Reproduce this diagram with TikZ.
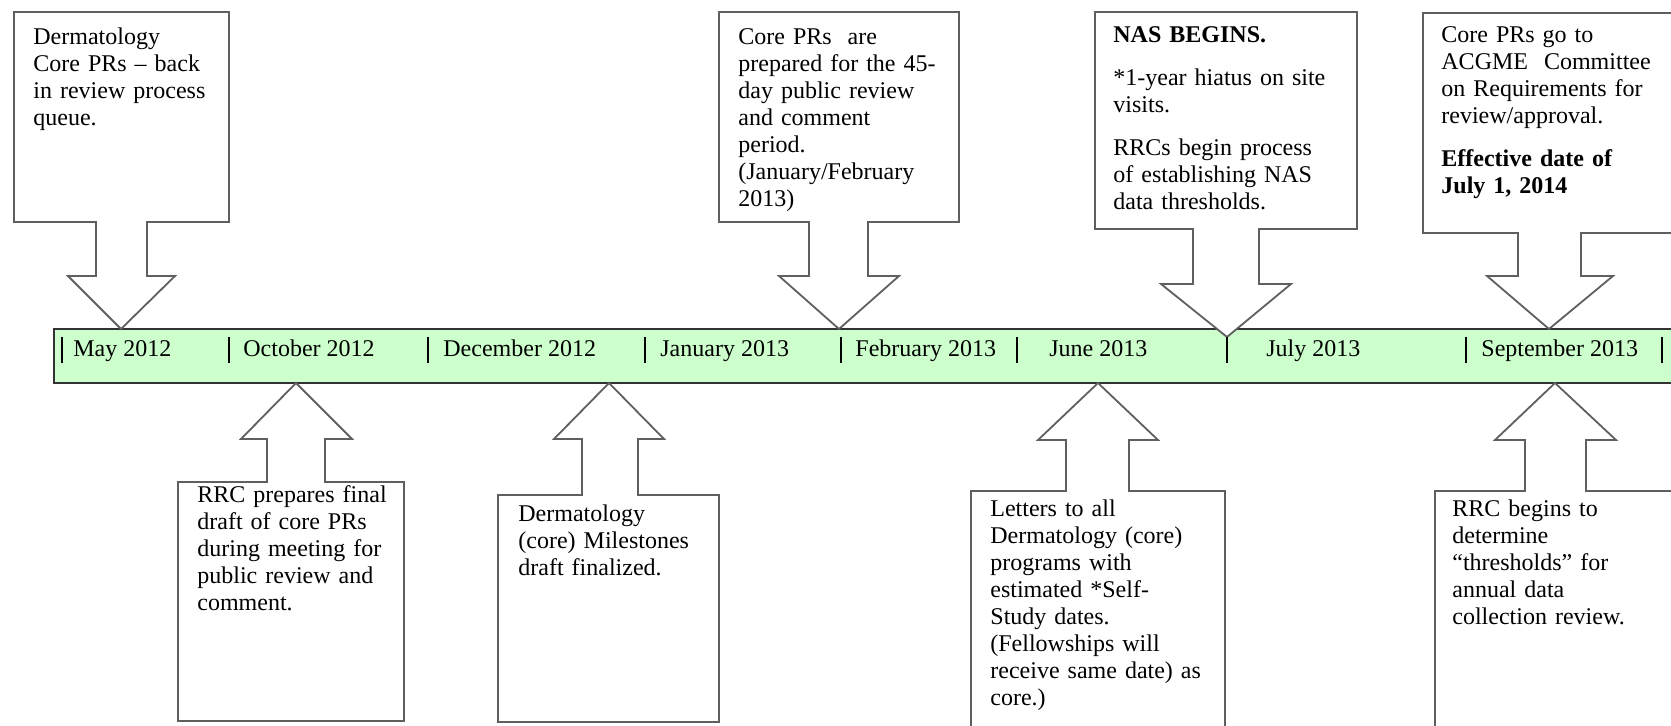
\documentclass[tikz,border=0pt]{standalone}
\usepackage{fontspec}
\setmainfont{Liberation Serif}
\usepackage{tikz}
\definecolor{barfill}{RGB}{204,255,204}
\definecolor{calloutline}{RGB}{95,95,95}

\begin{document}
\begin{tikzpicture}[
    x=0.5pt, y=-0.5pt,
    callout/.style={draw=calloutline, line width=0.9pt, fill=white, line join=miter},
    desc/.style={anchor=base west, inner sep=0pt, text width=125pt, align=left, font=\fontsize{12}{13.5}\selectfont},
    month/.style={anchor=base west, inner sep=0pt, font=\fontsize{12}{13.5}\selectfont},
    monthtick/.style={draw=black, line width=0.8pt}
]
    \path[use as bounding box, clip] (0,0) rectangle (1671,726);

    % timeline bar
    \draw[fill=barfill, draw=black!80, line width=0.9pt] (54,329) rectangle (1700,383);

    % callouts above the bar
    \draw[callout] (14,12) -- (229,12) -- (229,222) -- (147,222) -- (147,276) -- (175,276) -- (121,329)
        -- (68,276) -- (96,276) -- (96,222) -- (14,222) -- cycle;
    \node[desc] (dermqueue) at (33,45) {Dermatology\\Core PRs -- back\\in review process\\queue.};

    \draw[callout] (719,12) -- (959,12) -- (959,222) -- (868,222) -- (868,276) -- (899,276) -- (839,329)
        -- (779,276) -- (809,276) -- (809,222) -- (719,222) -- cycle;
    \node[desc] (pubreview) at (738,45) {Core PRs\ \ are\\prepared for the 45-\\day public review\\and comment\\period.\\(January/February\\2013)};

    \draw[callout] (1095,12) -- (1357,12) -- (1357,229) -- (1259,229) -- (1259,284) -- (1291,284) -- (1227,337)
        -- (1161,284) -- (1193,284) -- (1193,229) -- (1095,229) -- cycle;
    \node[desc] (nas) at (1113,43) {\textbf{NAS BEGINS.}\\[8pt]*1-year hiatus on site\\visits.\\[8pt]RRCs begin process\\of establishing NAS\\data thresholds.};

    \draw[callout] (1423,13) -- (1700,13) -- (1700,233) -- (1581,233) -- (1581,276) -- (1613,276) -- (1549,329)
        -- (1487,276) -- (1518,276) -- (1518,233) -- (1423,233) -- cycle;
    \node[desc] (acgme) at (1441,43) {Core PRs go to\\ACGME\ \ Committee\\on Requirements for\\review/approval.\\[8pt]\textbf{Effective date of}\\\textbf{July 1, 2014}};

    % callouts below the bar
    \draw[callout] (296,383) -- (352,439) -- (325,439) -- (325,482) -- (404,482) -- (404,721)
        -- (178,721) -- (178,482) -- (267,482) -- (267,439) -- (241,439) -- cycle;
    \node[desc] (finaldraft) at (197,503) {RRC prepares final\\draft of core PRs\\during meeting for\\public review and\\comment.};

    \draw[callout] (609,383) -- (664,439) -- (638,439) -- (638,495) -- (719,495) -- (719,722)
        -- (498,722) -- (498,495) -- (582,495) -- (582,439) -- (554,439) -- cycle;
    \node[desc] (milestones) at (518,522) {Dermatology\\(core) Milestones\\draft finalized.};

    \draw[callout] (1098,383) -- (1158,440) -- (1129,440) -- (1129,491) -- (1225,491) -- (1225,760)
        -- (971,760) -- (971,491) -- (1066,491) -- (1066,440) -- (1038,440) -- cycle;
    \node[desc] (letters) at (990,517) {Letters to all\\Dermatology (core)\\programs with\\estimated *Self-\\Study dates.\\(Fellowships will\\receive same date) as\\core.)};

    \draw[callout] (1555,383) -- (1616,440) -- (1586,440) -- (1586,491) -- (1700,491) -- (1700,760)
        -- (1435,760) -- (1435,491) -- (1525,491) -- (1525,440) -- (1495,440) -- cycle;
    \node[desc] (thresholds) at (1452,517) {RRC begins to\\determine\\``thresholds'' for\\annual data\\collection review.};

    % months on the bar
    \foreach \tx in {62, 229, 428, 645, 841, 1017, 1227, 1466, 1662}
        \draw[monthtick] (\tx,337) -- (\tx,363);

    \node[month] (may) at (73,357) {May 2012};
    \node[month] (oct) at (243,357) {October 2012};
    \node[month] (dec) at (443,357) {December 2012};
    \node[month] (jan) at (660,357) {January 2013};
    \node[month] (feb) at (855,357) {February 2013};
    \node[month] (jun) at (1049,357) {June 2013};
    \node[month] (jul) at (1266,357) {July 2013};
    \node[month] (sep) at (1481,357) {September 2013};

\end{tikzpicture}
\end{document}
